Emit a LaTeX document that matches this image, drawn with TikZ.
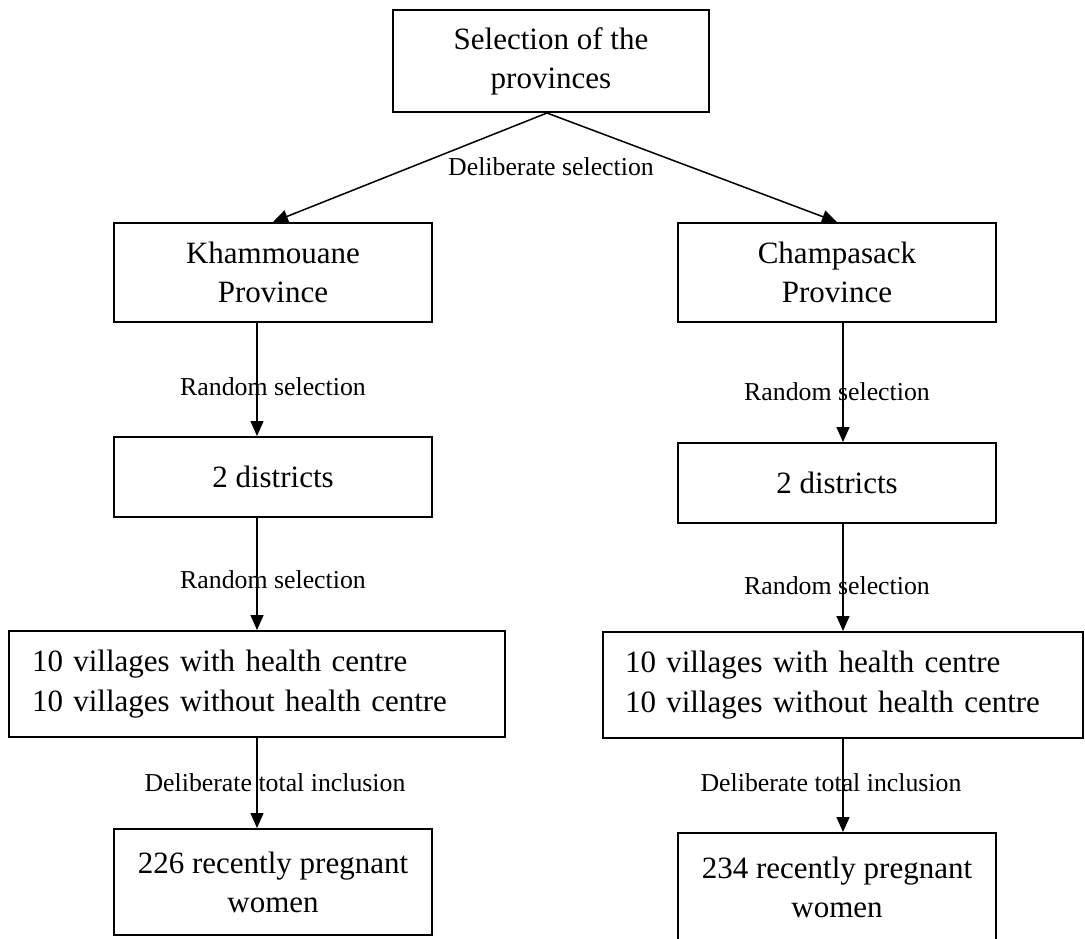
\documentclass[tikz,border=0pt]{standalone}
\usepackage{fontspec}
\setmainfont{Liberation Serif}
\usetikzlibrary{arrows.meta}
\begin{document}
\begin{tikzpicture}[x=1pt,y=-1pt,
  box/.style={draw, line width=2pt, rectangle, inner sep=0pt, align=center, font=\fontsize{31}{39}\selectfont},
  wide/.style={draw, line width=2pt, rectangle, inner ysep=0pt, align=left, font=\fontsize{31}{40}\selectfont},
  lbl/.style={inner sep=0pt, font=\fontsize{25.8}{30}\selectfont},
  arr/.style={line width=1.5pt, -{Triangle[length=15pt,width=13pt]}}]
\useasboundingbox (0,0) rectangle (1085,938);
% boxes
\node[box, minimum width=316pt, minimum height=102pt] (top) at (551,61) {Selection of the\\provinces};
\node[box, minimum width=318pt, minimum height=99pt] (khm) at (273,272.5) {Khammouane\\Province};
\node[box, minimum width=318pt, minimum height=99pt] (cha) at (837,272.5) {Champasack\\Province};
\node[box, minimum width=318pt, minimum height=80pt] (d1) at (273,477) {2 districts};
\node[box, minimum width=318pt, minimum height=80pt] (d2) at (837,483) {2 districts};
\node[wide, inner xsep=23pt, text width=450pt, minimum height=106pt] (v1) at (257,684) {10 villages with health centre\\10 villages without health centre};
\node[wide, inner xsep=22pt, text width=436pt, minimum height=106pt] (v2) at (843,685) {10 villages with health centre\\10 villages without health centre};
\node[box, minimum width=318pt, minimum height=106pt] (f1) at (273,882) {226 recently pregnant\\women};
\node[box, minimum width=318pt, minimum height=108pt] (f2) at (837,887) {234 recently pregnant\\women};
% labels
\node[lbl] (l0) at (551,167) {Deliberate selection};
\node[lbl] (l1) at (273,387) {Random selection};
\node[lbl] (l2) at (837,392) {Random selection};
\node[lbl] (l3) at (273,580) {Random selection};
\node[lbl] (l4) at (837,586) {Random selection};
\node[lbl] (l5) at (275,783) {Deliberate total inclusion};
\node[lbl] (l6) at (831,783) {Deliberate total inclusion};
% connectors
\draw[arr] ([xshift=-4pt]top.south) -- (khm.north);
\draw[arr] ([xshift=-4pt]top.south) -- (cha.north);
\draw[arr] ([xshift=-16pt]khm.south) -- ([xshift=-16pt]d1.north);
\draw[arr] ([xshift=6pt]cha.south) -- ([xshift=6pt]d2.north);
\draw[arr] ([xshift=-16pt]d1.south) -- (v1.north);
\draw[arr] ([xshift=6pt]d2.south) -- (v2.north);
\draw[arr] (v1.south) -- ([xshift=-16pt]f1.north);
\draw[arr] (v2.south) -- ([xshift=6pt]f2.north);
\end{tikzpicture}
\end{document}
